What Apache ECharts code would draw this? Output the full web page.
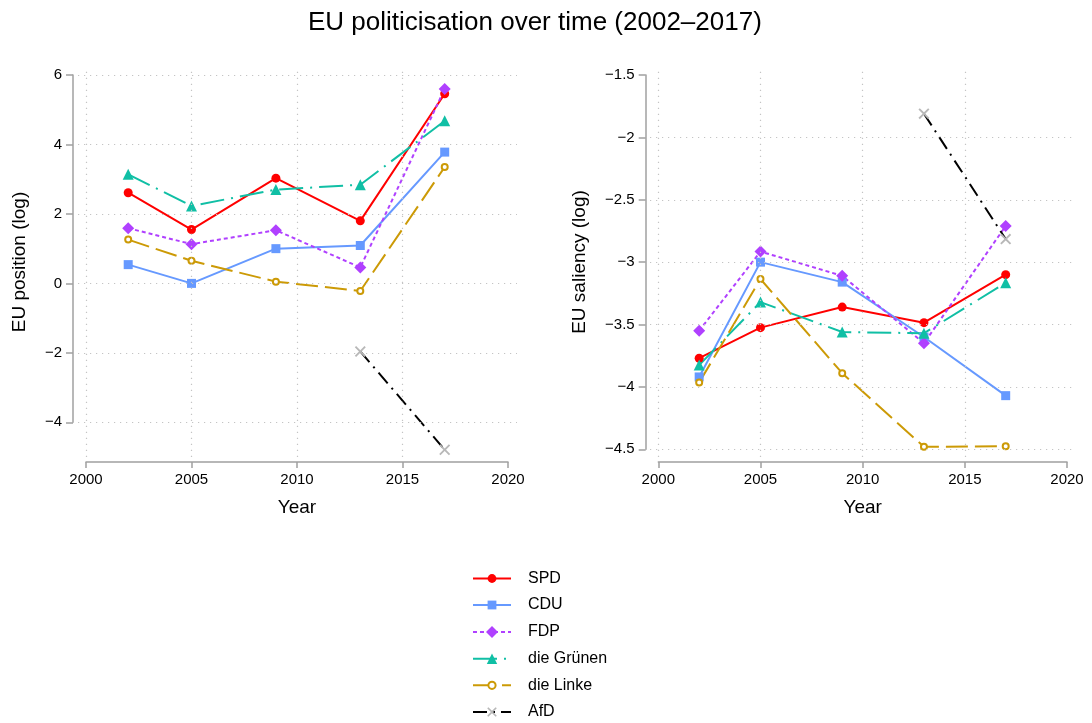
<!DOCTYPE html>
<html>
<head>
<meta charset="utf-8">
<script src="https://cdn.jsdelivr.net/npm/echarts@6/dist/echarts.min.js"></script>
<style>html,body{margin:0;padding:0;background:#fff}#c{width:1092px;height:723px}</style>
</head>
<body>
<div id="c"></div>
<script>
// ---------- data ----------
const years = [2002, 2005, 2009, 2013, 2017];
const parties = ['SPD', 'CDU', 'FDP', 'die Grünen', 'die Linke', 'AfD'];

// EU position (log)
const positionSPD    = [2.61, 1.55, 3.03, 1.80, 5.46];
const positionCDU    = [0.54, 0.00, 1.00, 1.09, 3.78];
const positionFDP    = [1.59, 1.13, 1.53, 0.46, 5.60];
const positionGruene = [3.14, 2.23, 2.70, 2.84, 4.68];
const positionLinke  = [1.26, 0.65, 0.05, -0.22, 3.35];
const positionAfD    = [null, null, null, -1.96, -4.79];

// EU saliency (log)
const saliencySPD    = [-3.77, -3.525, -3.36, -3.485, -3.10];
const saliencyCDU    = [-3.92, -3.00, -3.16, -3.60, -4.07];
const saliencyFDP    = [-3.55, -2.915, -3.11, -3.65, -2.71];
const saliencyGruene = [-3.825, -3.32, -3.56, -3.57, -3.165];
const saliencyLinke  = [-3.965, -3.135, -3.89, -4.48, -4.475];
const saliencyAfD    = [null, null, null, -1.81, -2.815];

// ticks / gridlines
const xTicks = [2000, 2005, 2010, 2015, 2020];
const leftYTicks = [-4, -2, 0, 2, 4, 6];
const rightYTicks = [-4.5, -4, -3.5, -3, -2.5, -2, -1.5];
const gridX = [2000, 2005, 2010, 2015];
const leftGridY = [-4, -2, 0, 2, 4, 6];
const rightGridY = [-4.5, -4, -3.5, -3, -2.5, -2];

// ---------- styles ----------
const FONT = '"Liberation Sans", Arial, Helvetica, sans-serif';
const AXIS_COLOR = '#a0a0a0';
const X_PATH = 'path://M0,1.2L1.2,0L5,3.8L8.8,0L10,1.2L6.2,5L10,8.8L8.8,10L5,6.2L1.2,10L0,8.8L3.8,5Z';
const styles = {
  'SPD':        {color:'#ff0000', symbol:'circle',      size:9,  dash:'solid',      legendH:11},
  'CDU':        {color:'#6699ff', symbol:'rect',        size:9,  dash:'solid',      legendH:11},
  'FDP':        {color:'#b040ff', symbol:'diamond',     size:12, dash:[4,3],        legendH:15},
  'die Grünen': {color:'#10bfa5', symbol:'triangle',    size:11, dash:[24,7,2,7],   legendH:13},
  'die Linke':  {color:'#cc9a06', symbol:'emptyCircle', size:6,  dash:[22,7],       legendH:9},
  'AfD':        {color:'#000000', symbol:X_PATH,        size:11, dash:[14,6,2,6],   legendH:12, markerColor:'#b8b8b8'}
};
const legendRowCenters = [578.5, 605, 632, 658.7, 685.3, 712];

function pairs(vals) {
  const out = [];
  vals.forEach((v, i) => { if (v !== null) out.push([years[i], v]); });
  return out;
}
function minusFmt(v) { return String(v).replace('-', '\u2212'); }

function makeSeries(name, vals, axisIdx) {
  const st = styles[name];
  return {
    type: 'line', name: name, xAxisIndex: axisIdx, yAxisIndex: axisIdx,
    data: pairs(vals), z: 3,
    symbol: st.symbol, symbolSize: st.size, showAllSymbol: true,
    lineStyle: {color: st.color, width: 2, type: st.dash},
    itemStyle: {color: st.markerColor || st.color, borderWidth: st.symbol === 'emptyCircle' ? 1.5 : 0,
                borderColor: st.markerColor || st.color},
    emphasis: {disabled: true}, animation: false, silent: true
  };
}
function gridSeries(axisIdx, yVals) {
  return {
    type: 'line', xAxisIndex: axisIdx, yAxisIndex: axisIdx, data: [], z: 1, silent: true, animation: false,
    markLine: {
      symbol: 'none', silent: true, animation: false, label: {show: false},
      lineStyle: {color: '#c4c4c4', width: 1.2, type: [1.2, 4.8]},
      emphasis: {disabled: true},
      data: yVals.map(v => ({yAxis: v})).concat(gridX.map(v => ({xAxis: v})))
    }
  };
}

// ---------- geometry ----------
const L = {pl:78, pr:517, x0:86, x1:508, yTop:75, yBot:422.3, vTop:6, vBot:-4};
const R = {pl:650, pr:1076, x0:658.3, x1:1067, yTop:75, yBot:449.3, vTop:-1.5, vBot:-4.5};
const PT = 67, PB = 457;

function dataRange(P) {
  const pxYr = (P.x1 - P.x0) / 20;
  const pxV = (P.yBot - P.yTop) / (P.vTop - P.vBot);
  return {
    xmin: 2000 - (P.x0 - P.pl) / pxYr, xmax: 2020 + (P.pr - P.x1) / pxYr,
    ymax: P.vTop + (P.yTop - PT) / pxV, ymin: P.vBot - (PB - P.yBot) / pxV
  };
}
const dL = dataRange(L), dR = dataRange(R);

const grids = [
  {left: L.pl, top: PT, width: L.pr - L.pl, height: PB - PT},
  {left: L.x0, top: PT, width: L.x1 - L.x0, height: PB - PT},
  {left: L.pl, top: L.yTop, width: L.pr - L.pl, height: L.yBot - L.yTop},
  {left: R.pl, top: PT, width: R.pr - R.pl, height: PB - PT},
  {left: R.x0, top: PT, width: R.x1 - R.x0, height: PB - PT},
  {left: R.pl, top: R.yTop, width: R.pr - R.pl, height: R.yBot - R.yTop}
];

const hidden = (g) => ({gridIndex: g, type: 'value', show: false, min: 0, max: 1});
const tickLabel = {fontSize: 15, color: '#000', fontFamily: FONT};
const nameStyle = {fontSize: 19, color: '#000', fontFamily: FONT};

function visX(g) {
  return {
    gridIndex: g, type: 'value', min: 2000, max: 2020, interval: 5, position: 'bottom', offset: 5,
    axisLine: {show: true, onZero: false, lineStyle: {color: AXIS_COLOR, width: 1.5}},
    axisTick: {show: true, length: 6, lineStyle: {color: AXIS_COLOR, width: 1.5}},
    axisLabel: Object.assign({margin: 10, formatter: (v) => String(v)}, tickLabel),
    splitLine: {show: false},
    name: 'Year', nameLocation: 'middle', nameGap: 36, nameTextStyle: nameStyle
  };
}
function visY(g, min, max, interval, offset) {
  return {
    gridIndex: g, type: 'value', min: min, max: max, interval: interval, position: 'left', offset: offset,
    axisLine: {show: true, onZero: false, lineStyle: {color: AXIS_COLOR, width: 1.5}},
    axisTick: {show: true, length: 7, lineStyle: {color: AXIS_COLOR, width: 1.5}},
    axisLabel: Object.assign({margin: 11, formatter: minusFmt}, tickLabel),
    splitLine: {show: false}
  };
}
function dataX(g, d) {
  return {gridIndex: g, type: 'value', min: d.xmin, max: d.xmax, show: false};
}
function dataY(g, d, name, gap) {
  return {
    gridIndex: g, type: 'value', min: d.ymin, max: d.ymax, show: true,
    axisLine: {show: false}, axisTick: {show: false}, axisLabel: {show: false}, splitLine: {show: false},
    name: name, nameLocation: 'middle', nameGap: gap, nameTextStyle: nameStyle
  };
}

const xAxis = [
  dataX(0, dL), visX(1), hidden(2),
  dataX(3, dR), visX(4), hidden(5)
];
const yAxis = [
  dataY(0, dL, 'EU position (log)', 49), hidden(1), visY(2, -4, 6, 2, L.pl - 73),
  dataY(3, dR, 'EU saliency (log)', 61), hidden(4), visY(5, -4.5, -1.5, 0.5, R.pl - 645.7)
];

const posVals = [positionSPD, positionCDU, positionFDP, positionGruene, positionLinke, positionAfD];
const salVals = [saliencySPD, saliencyCDU, saliencyFDP, saliencyGruene, saliencyLinke, saliencyAfD];

const series = [gridSeries(0, leftGridY), gridSeries(3, rightGridY)];
parties.forEach((p, i) => series.push(makeSeries(p, posVals[i], 0)));
parties.forEach((p, i) => series.push(makeSeries(p, salVals[i], 3)));

// one legend component per row so each icon can have its own size
const legends = parties.map((p, i) => {
  const h = styles[p].legendH;
  return {
    data: [p], orient: 'vertical', left: 472, top: legendRowCenters[i] - 8, padding: 0,
    itemWidth: 38, itemHeight: h, selectedMode: false,
    textStyle: {fontSize: 16, color: '#000', fontFamily: FONT, padding: [0, 0, 0, 12]}
  };
});

const chart = echarts.init(document.getElementById('c'), null, {renderer: 'canvas'});
chart.setOption({
  backgroundColor: '#fff',
  animation: false,
  textStyle: {fontFamily: FONT},
  title: {
    text: 'EU politicisation over time (2002\u20132017)', left: 308, top: 10, padding: 0,
    textStyle: {fontSize: 26, fontWeight: 'normal', color: '#000', fontFamily: FONT}
  },
  legend: legends,
  grid: grids,
  xAxis: xAxis,
  yAxis: yAxis,
  series: series
});
</script>
</body>
</html>
